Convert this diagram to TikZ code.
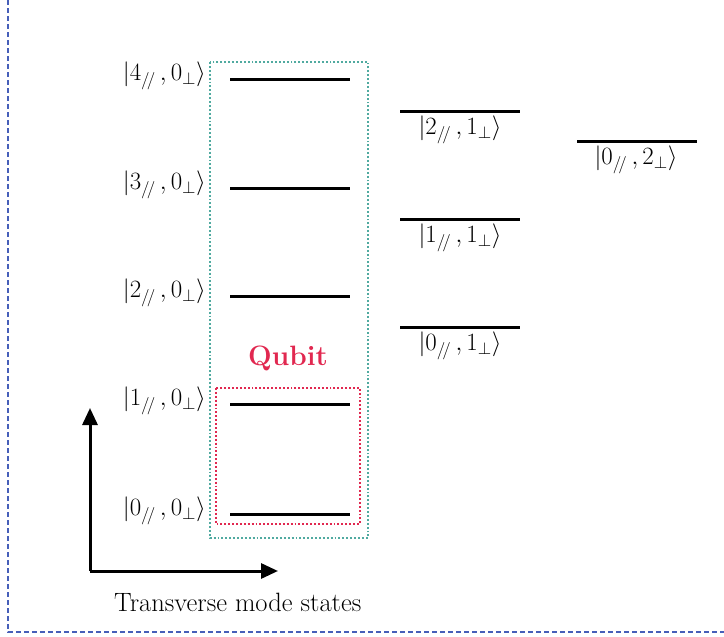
\documentclass[tikz,border=0pt]{standalone}
\usetikzlibrary{arrows.meta}
\definecolor{greendot}{RGB}{80,170,160}
\definecolor{reddot}{RGB}{225,40,80}
\definecolor{borderblue}{RGB}{70,95,185}
\newcommand{\ket}[2]{$|#1_{/\!/}\,,#2_{\perp}\rangle$}
\begin{document}
\begin{tikzpicture}[x=1pt,y=-1pt,
  level/.style={line width=3pt},
  lab/.style={font=\fontsize{26}{29}\selectfont, inner sep=1pt},
  axisarrow/.style={line width=3pt,-{Triangle[length=17pt,width=15pt]}}]
\useasboundingbox (0,0) rectangle (724,637);
% border
\draw[borderblue, dashed, line width=1.3pt, dash pattern=on 5pt off 3pt] (8,0) -- (8,632) -- (724,632);
% left column
\foreach \i/\y in {4/79,3/188,2/296,1/404,0/514}{
  \coordinate (L\i a) at (230,\y);
  \coordinate (L\i b) at (350,\y);
  \draw[level] (L\i a) -- (L\i b);
  \node[lab, anchor=east] (K\i) at (207,\y-3) {\ket{\i}{0}};
}
% boxes
\draw[greendot, dotted, line width=1.9pt] (210,62) rectangle (368,538);
\draw[reddot, dotted, line width=1.9pt] (216,388) rectangle (360,524);
\node[reddot, font=\fontsize{28}{32}\selectfont\bfseries] (Q) at (288,358) {Qubit};
% middle column
\foreach \i/\y in {2/111,1/219,0/327}{
  \coordinate (M\i a) at (400,\y);
  \coordinate (M\i b) at (520,\y);
  \draw[level] (M\i a) -- (M\i b);
  \node[lab, anchor=north] (N\i) at (460,\y+4) {\ket{\i}{1}};
}
% right
\coordinate (R0a) at (577,141);
\coordinate (R0b) at (697,141);
\draw[level] (R0a) -- (R0b);
\node[lab, anchor=north] (P0) at (636,145) {\ket{0}{2}};
% axes
\coordinate (O) at (90,571);
\coordinate (Yt) at (90,408);
\coordinate (Xt) at (278,571);
\draw[axisarrow] (O) -- (Yt);
\draw[axisarrow] (O) -- (Xt);
\node[font=\fontsize{26.5}{30}\selectfont, anchor=west, inner sep=0pt] (T) at (114,602) {Transverse mode states};
\end{tikzpicture}
\end{document}
